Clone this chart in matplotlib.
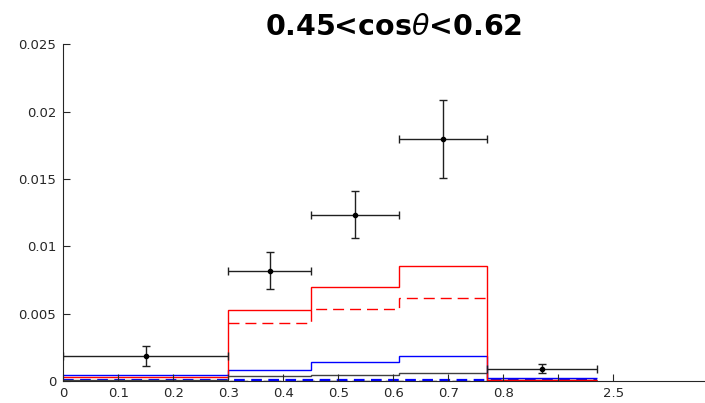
import matplotlib
matplotlib.use("Agg")
import matplotlib.pyplot as plt

# Bin edges (last bin compressed onto the axis)
edges = [0.0, 0.3, 0.45, 0.61, 0.77, 0.97]

# Measured points
data_x = [0.15, 0.375, 0.53, 0.69, 0.87]
data_y = [0.00185, 0.0082, 0.01235, 0.0180, 0.00091]
data_yerr = [0.00074, 0.00137, 0.00175, 0.0029, 0.00035]

# Model histograms
red_solid = [0.00028, 0.00528, 0.00701, 0.00857, 0.0001]
red_dashed_edges = [0.3, 0.45, 0.61, 0.77]
red_dashed = [0.00428, 0.00531, 0.00617]
blue_solid = [0.00045, 0.00079, 0.00141, 0.00188, 0.00025]
black_solid = [0.0001, 0.00035, 0.00042, 0.00057, 0.0001]
blue_dashed = [0.00005, 0.00005, 0.00006, 0.00007, 0.00005]
black_dashed = [0.00003, 0.00003, 0.00003, 0.00003, 0.00003]

# Axis ticks
xtick_pos = [0, 0.1, 0.2, 0.3, 0.4, 0.5, 0.6, 0.7, 0.8, 0.9, 1.0]
xtick_labels = ["0", "0.1", "0.2", "0.3", "0.4", "0.5", "0.6", "0.7", "0.8", "", "2.5"]
ytick_pos = [0, 0.005, 0.01, 0.015, 0.02, 0.025]
ytick_labels = ["0", "0.005", "0.01", "0.015", "0.02", "0.025"]

fig = plt.figure(figsize=(7.05, 4.03), dpi=100)
ax = fig.add_axes([0.0898, 0.0546, 0.9362, 0.8355])

ax.stairs(black_dashed, edges, baseline=None, color="black", lw=1.0,
          linestyle=(0, (5, 3)))
ax.stairs(blue_dashed, edges, baseline=None, color="#0000ff", lw=1.6,
          linestyle=(0, (4.8, 2.9)))
ax.stairs(black_solid, edges, baseline=None, color="#404040", lw=1.0)
ax.stairs(blue_solid, edges, baseline=None, color="#0000ff", lw=1.0)
ax.stairs(red_dashed, red_dashed_edges, baseline=None, color="#ff0000", lw=1.0,
          linestyle=(0, (7.9, 4.3)))
ax.stairs(red_solid, edges, baseline=None, color="#ff0000", lw=1.0)

# Horizontal error = bin half-width
xerr_lo = [x - lo for x, lo in zip(data_x, edges[:-1])]
xerr_hi = [hi - x for x, hi in zip(data_x, edges[1:])]
ax.errorbar(data_x, data_y, xerr=[xerr_lo, xerr_hi], yerr=data_yerr,
            fmt="o", color="black", ecolor="#202020", markersize=3,
            elinewidth=1.0, capsize=3.2, capthick=1.0, zorder=5)

ax.set_xlim(0, 1.2)
ax.set_ylim(0, 0.025)
ax.set_xticks(xtick_pos)
ax.set_xticklabels(xtick_labels)
ax.set_yticks(ytick_pos)
ax.set_yticklabels(ytick_labels)

for side in ("top", "right"):
    ax.spines[side].set_visible(False)
for side in ("left", "bottom"):
    ax.spines[side].set_color("#262626")
    ax.spines[side].set_linewidth(0.8)

ax.tick_params(axis="both", direction="in", length=4.8, width=0.8,
               colors="#262626", labelsize=9.5, labelcolor="#262626")
ax.tick_params(axis="x", pad=4)
ax.tick_params(axis="y", pad=5)

ax.set_title(r"0.45<cos$\theta$<0.62", fontsize=20.5, fontweight="bold",
             pad=7)

fig.savefig("out.png", dpi=100)
